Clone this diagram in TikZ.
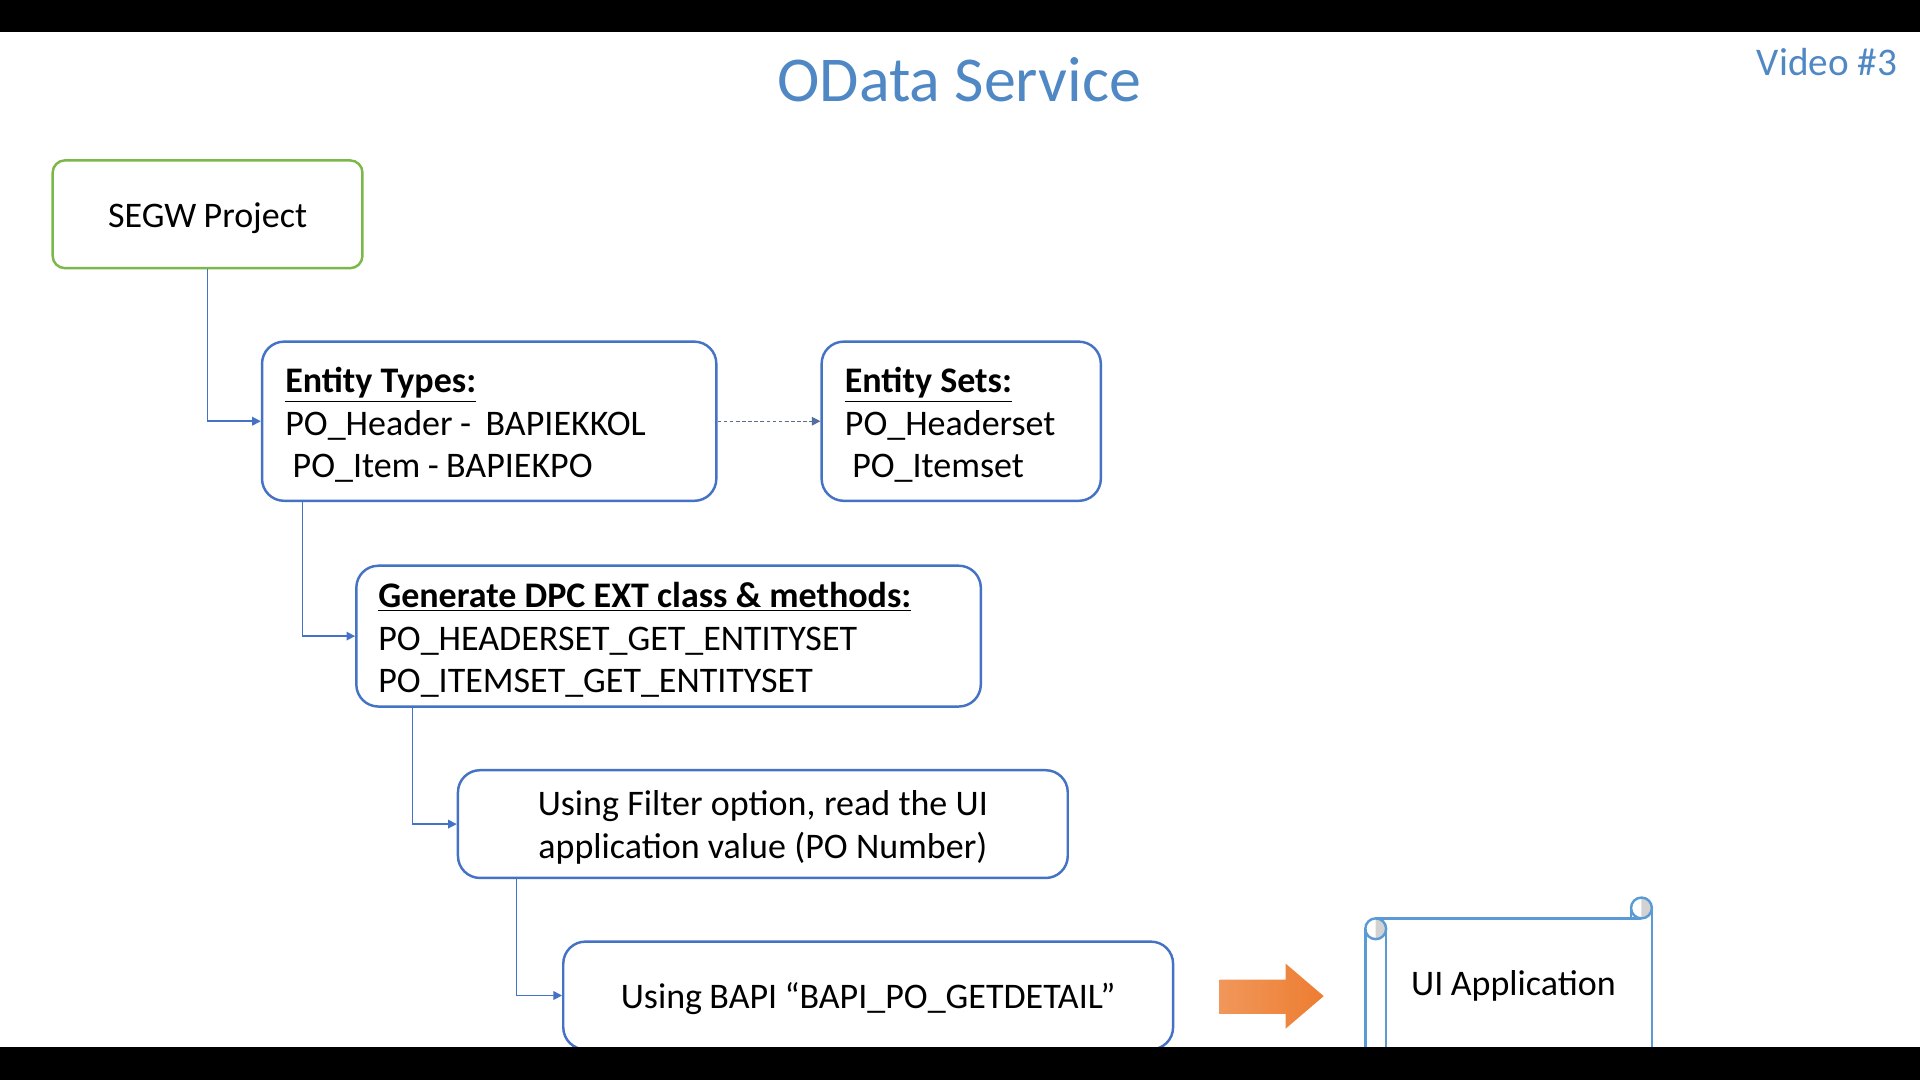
\documentclass[tikz,border=0pt]{standalone}
\usepackage{fontspec}
\setmainfont{Carlito}
\usetikzlibrary{arrows.meta,calc}
\definecolor{boxblue}{RGB}{68,114,196}
\definecolor{boxgreen}{RGB}{122,184,72}
\definecolor{titleblue}{RGB}{79,136,196}
\definecolor{orng}{RGB}{237,125,49}
\definecolor{scrollblue}{RGB}{91,155,213}
\definecolor{dashcol}{RGB}{90,110,140}
\newcommand{\tightsp}{\spaceskip=3.0pt plus 0.5pt minus 0.3pt\xspaceskip=3.1pt\relax}
\newcommand{\hdline}[1]{\underline{\textbf{\spaceskip=3.35pt\xspaceskip=3.35pt\relax #1}}}
\begin{document}
\begin{tikzpicture}[x=0.5pt,y=-0.5pt,
  bodyfont/.style={font=\fontsize{14.7}{17.5}\selectfont},
  bluebox/.style={draw=boxblue, line width=1pt, rounded corners=9pt, fill=white, inner sep=0pt},
  greenbox/.style={draw=boxgreen, line width=1pt, rounded corners=5pt, fill=white, inner sep=0pt},
  boxtext/.style={bodyfont, inner sep=0pt},
  conn/.style={draw=boxblue, line width=0.6pt, -{Triangle[length=3.5pt,width=3.5pt]}},
  dconn/.style={draw=dashcol, line width=0.5pt, dash pattern=on 1.5pt off 1pt, -{Triangle[length=3.5pt,width=3.5pt,fill=boxblue]}},
  scrollline/.style={draw=scrollblue, line width=1pt}]
\useasboundingbox (0,0) rectangle (1568,882);
\fill[white] (0,0) rectangle (1568,882);

% title
\node[text=titleblue, font=\fontsize{26.1}{30}\selectfont] (title) at (783.5,65) {OData Service};
\node[text=titleblue, font=\fontsize{16}{19}\selectfont] (video) at (1492,51) {Video \#3};

% boxes
\node[greenbox, minimum width=126.5pt, minimum height=44pt] (segw) at (169.5,175) {};
\node[boxtext] (segwt) at ([yshift=-1.8pt]segw.center) {\tightsp SEGW Project};

\node[bluebox, minimum width=185.5pt, minimum height=65pt] (et) at (399.5,344) {};
\node[boxtext, text width=166.5pt, align=left] (ett) at ([yshift=-1.5pt]et.center)
  {\tightsp\hdline{Entity Types:}\\PO\_Header -~ BAPIEKKOL\\~PO\_Item - BAPIEKPO};

\node[bluebox, minimum width=114pt, minimum height=65pt] (es) at (785,344) {};
\node[boxtext, text width=95pt, align=left] (est) at ([yshift=-1.5pt]es.center)
  {\tightsp\hdline{Entity Sets:}\\PO\_Headerset\\~PO\_Itemset};

\node[bluebox, minimum width=255pt, minimum height=57.5pt] (dpc) at (546,519.5) {};
\node[boxtext, text width=237pt, align=left] (dpct) at ([yshift=-1.5pt]dpc.center)
  {\tightsp\hdline{Generate DPC EXT class \& methods:}\\PO\_HEADERSET\_GET\_ENTITYSET\\PO\_ITEMSET\_GET\_ENTITYSET};

\node[bluebox, minimum width=249pt, minimum height=44pt] (flt) at (623,673) {};
\node[boxtext, text width=230pt, align=center] (fltt) at ([yshift=-1.5pt]flt.center)
  {\tightsp Using Filter option, read the UI\\application value (PO Number)};

\node[bluebox, minimum width=249pt, minimum height=44pt] (bapi) at (709,813) {};
\node[boxtext] (bapit) at ([yshift=-1.2pt]bapi.center) {\tightsp Using BAPI “BAPI\_PO\_GETDETAIL”};

% connectors
\draw[conn] (segw.south) |- (et.west);
\draw[dconn] (et.east) -- (es.west);
\draw[conn] ([xshift=17pt]et.south west) |- (dpc.west);
\draw[conn] ([xshift=23.5pt]dpc.south west) |- (flt.west);
\draw[conn] ([xshift=24.5pt]flt.south west) |- (bapi.west);

% orange block arrow
\shade[left color=orng!80!white, right color=orng]
  (996,800) -- (1050,800) -- (1050,787) -- (1081,813.5) -- (1050,840) -- (1050,828) -- (996,828) -- cycle;

% scroll (UI Application)
\fill[white] (1115,750) rectangle (1349,880);
\begin{scope}
  \clip (1123.5,745) rectangle (1136,770);
  \fill[gray!35] (1123.5,758.5) circle (8.5);
\end{scope}
\begin{scope}
  \clip (1340.5,730) rectangle (1352,752);
  \fill[gray!35] (1340.5,741.5) circle (8.5);
\end{scope}
\draw[scrollline] (1123.5,758.5) circle (8.5);
\draw[scrollline] (1115,758.5) -- (1115,880);
\draw[scrollline] (1132,758.5) -- (1132,880);
\draw[scrollline] (1123.5,750) -- (1340.5,750);
\draw[scrollline] (1340.5,741.5) circle (8.5);
\draw[scrollline] (1349,741.5) -- (1349,880);
\draw[scrollline] (1332,741.5) -- (1332,750);
\node[bodyfont] (ui) at (1236,805.5) {\tightsp UI Application};

% letterbox bars
\fill[black] (0,0) rectangle (1568,26.5);
\fill[black] (0,855) rectangle (1568,882);
\end{tikzpicture}
\end{document}
